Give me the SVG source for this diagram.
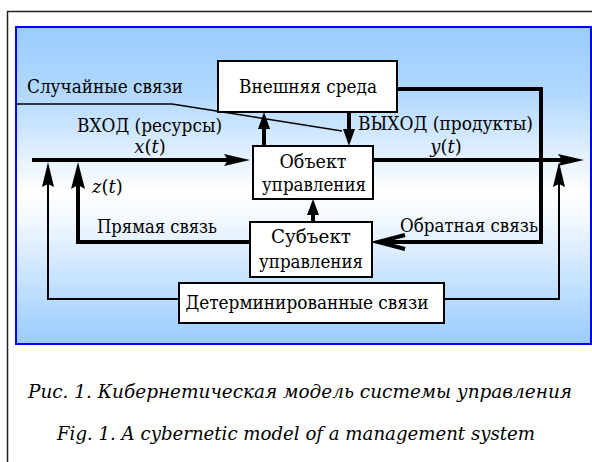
<svg xmlns="http://www.w3.org/2000/svg" width="592" height="462" viewBox="0 0 592 462">
<defs>
<linearGradient id="bg" x1="0" y1="0" x2="0" y2="1">
<stop offset="0" stop-color="#99ccff"/>
<stop offset="0.22" stop-color="#b3d9ff"/>
<stop offset="0.52" stop-color="#ffffff"/>
<stop offset="0.6" stop-color="#f4f9ff"/>
<stop offset="1" stop-color="#99ccff"/>
</linearGradient>
</defs>
<style>
.box{fill:#fff;stroke:#000;stroke-width:2}
.t{font-family:'DejaVu Serif',serif;font-size:18px;fill:#000}
.c{text-anchor:middle}
.i{font-style:italic}
.thick{fill:none;stroke:#000;stroke-width:4}
.thin{fill:none;stroke:#000;stroke-width:2}
.ah{fill:#000;stroke:none}
.cap{font-family:'DejaVu Serif',serif;font-size:18px;font-style:italic;text-anchor:middle;fill:#000}
</style>
<rect x="0" y="0" width="592" height="462" fill="#fff"/>
<path d="M7.5 462 V11.5 H592" fill="none" stroke="#222" stroke-width="1.5"/>
<rect x="16" y="27" width="575" height="317" fill="url(#bg)" stroke="#0000ff" stroke-width="2"/>

<g id="connectors">
<polyline points="16,104 172,104 342,131" fill="none" stroke="#000" stroke-width="1.5"/>
<line x1="32" y1="160" x2="228" y2="160" class="thick"/>
<polygon class="ah" points="250,160 224,154 228,160 224,166"/>
<line x1="373" y1="160" x2="564" y2="160" class="thick"/>
<polygon class="ah" points="584,160 558,154 562,160 558,166"/>
<line x1="264" y1="146" x2="264" y2="126" class="thick"/>
<polygon class="ah" points="264,112 258,129 270,129"/>
<line x1="349" y1="112" x2="349" y2="132" class="thick"/>
<polygon class="ah" points="349,146 343,129 355,129"/>
<line x1="313" y1="222" x2="313" y2="212" class="thick"/>
<polygon class="ah" points="313,199 307,215 319,215"/>
<polyline points="397,89 541,89 541,242 380,242" class="thick"/>
<polyline points="405,235 378,242 405,249" fill="none" stroke="#000" stroke-width="4" stroke-linejoin="miter"/>
<polyline points="250,242 78,242 78,182" class="thick"/>
<polygon class="ah" points="78,162 71,189 78,185 85,189"/>
<polyline points="179,299 48,299 48,182" class="thin"/>
<polygon class="ah" points="48,162 42,187 48,184 54,187"/>
<polyline points="444,299 559,299 559,182" class="thin"/>
<polygon class="ah" points="559,162 553,187 559,184 565,187"/>
</g>

<g id="env">
<rect class="box" x="218" y="61" width="179" height="51"/>
<text class="t c" x="308" y="93" textLength="138" lengthAdjust="spacingAndGlyphs">Внешняя среда</text>
</g>
<g id="object">
<rect class="box" x="253" y="146" width="120" height="53"/>
<text class="t c" x="313" y="168" textLength="67" lengthAdjust="spacingAndGlyphs">Объект</text>
<text class="t c" x="314" y="191" textLength="104" lengthAdjust="spacingAndGlyphs">управления</text>
</g>
<g id="subject">
<rect class="box" x="250" y="222" width="122" height="55"/>
<text class="t c" x="311" y="243" textLength="80" lengthAdjust="spacingAndGlyphs">Субъект</text>
<text class="t c" x="311" y="268" textLength="104" lengthAdjust="spacingAndGlyphs">управления</text>
</g>
<g id="determined">
<rect class="box" x="179" y="283" width="265" height="40"/>
<text class="t c" x="307" y="309" textLength="243" lengthAdjust="spacingAndGlyphs">Детерминированные связи</text>
</g>
<g id="labels">
<text class="t" x="27" y="93" textLength="156" lengthAdjust="spacingAndGlyphs">Случайные связи</text>
<text class="t" x="77" y="132" textLength="145" lengthAdjust="spacingAndGlyphs">ВХОД (ресурсы)</text>
<text class="t c" x="150" y="153"><tspan class="i">x</tspan>(<tspan class="i">t</tspan>)</text>
<text class="t" x="358" y="130" textLength="175" lengthAdjust="spacingAndGlyphs">ВЫХОД (продукты)</text>
<text class="t c" x="446" y="153"><tspan class="i">y</tspan>(<tspan class="i">t</tspan>)</text>
<text class="t" x="92" y="193"><tspan class="i">z</tspan>(<tspan class="i">t</tspan>)</text>
<text class="t" x="97" y="233" textLength="120" lengthAdjust="spacingAndGlyphs">Прямая связь</text>
<text class="t" x="400" y="232" textLength="138" lengthAdjust="spacingAndGlyphs">Обратная связь</text>
</g>

<text class="cap" x="300" y="398" textLength="544" lengthAdjust="spacingAndGlyphs">Рис. 1. Кибернетическая модель системы управления</text>
<text class="cap" x="296" y="440" textLength="478" lengthAdjust="spacingAndGlyphs">Fig. 1. A cybernetic model of a management system</text>
</svg>
